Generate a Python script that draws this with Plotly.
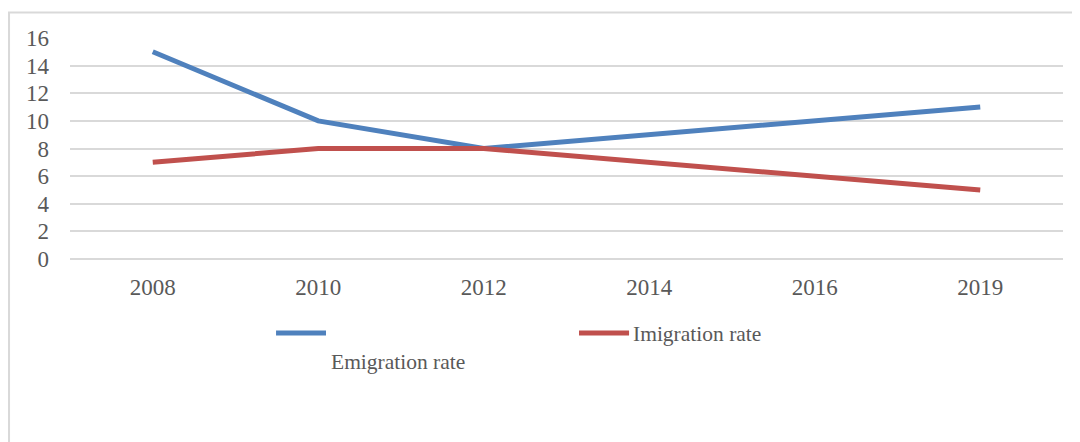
import plotly.graph_objects as go

years = ["2008", "2010", "2012", "2014", "2016", "2019"]
emigration = [15, 10, 8, 9, 10, 11]
imigration = [7, 8, 8, 7, 6, 5]

blue = "#4F81BD"
red = "#C0504D"
txt = "#595959"
serif = "Liberation Serif, Times New Roman, serif"

fig = go.Figure()
fig.add_trace(go.Scatter(x=years, y=emigration, mode="lines", name="Emigration rate",
                         line=dict(color=blue, width=5)))
fig.add_trace(go.Scatter(x=years, y=imigration, mode="lines", name="Imigration rate",
                         line=dict(color=red, width=5)))

# page body has an 8px margin, so the figure is a bit smaller than the window
fig.update_layout(
    width=1072, height=434,
    margin=dict(l=62, r=17, t=30, b=183, autoexpand=False),
    plot_bgcolor="white", paper_bgcolor="white",
    showlegend=False,
    font=dict(family=serif, size=23, color=txt),
)
fig.update_xaxes(type="category", range=[-0.5, 5.5], showgrid=False, showline=False, ticks="",
                 ticklabelstandoff=12, automargin=False,
                 tickfont=dict(family=serif, size=23, color=txt))
fig.update_yaxes(range=[0, 16], dtick=2, showgrid=True, gridcolor="#D9D9D9", gridwidth=1.5,
                 zeroline=True, zerolinecolor="#D9D9D9", zerolinewidth=1.5,
                 showline=False, ticks="", ticklabelstandoff=20, automargin=False,
                 tickfont=dict(family=serif, size=23, color=txt))

# outer chart border
fig.add_shape(type="rect", xref="paper", yref="paper", x0=-0.0614, x1=1.05, y0=-0.9, y1=1.1154,
              line=dict(color="#D9D9D9", width=2), layer="below")

# hand-drawn legend
fig.add_shape(type="line", xref="paper", yref="paper", x0=0.2075, x1=0.2578, y0=-0.3348, y1=-0.3348,
              line=dict(color=blue, width=5))
fig.add_shape(type="line", xref="paper", yref="paper", x0=0.5126, x1=0.5630, y0=-0.3348, y1=-0.3348,
              line=dict(color=red, width=5))
fig.add_annotation(xref="paper", yref="paper", x=0.565, y=-0.339, text="Imigration rate",
                   showarrow=False, xanchor="left", yanchor="middle",
                   font=dict(family=serif, size=21.5, color=txt))
fig.add_annotation(xref="paper", yref="paper", x=0.2608, y=-0.466, text="Emigration rate",
                   showarrow=False, xanchor="left", yanchor="middle",
                   font=dict(family=serif, size=21.5, color=txt))

fig.write_html("out.html")
